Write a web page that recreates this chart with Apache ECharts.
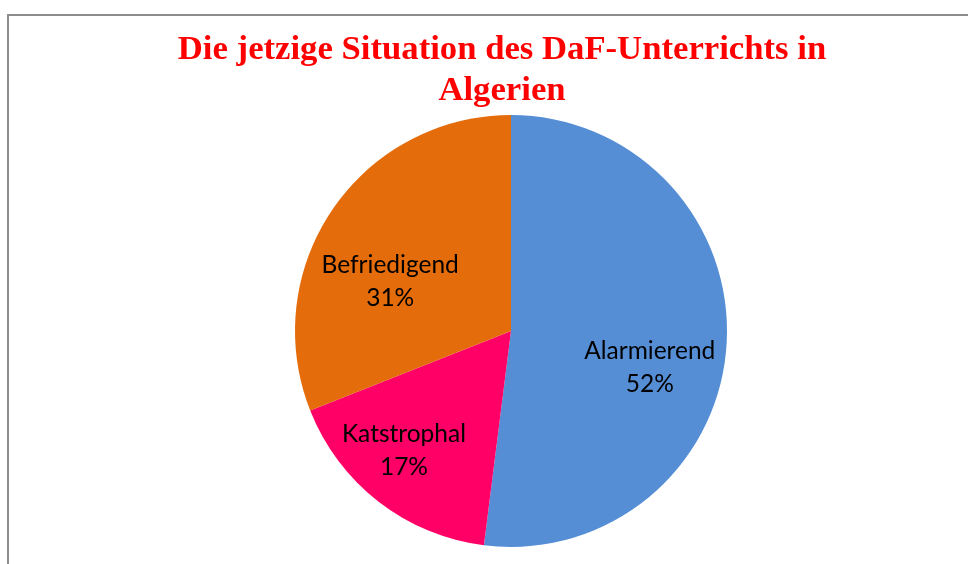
<!DOCTYPE html>
<html>
<head>
<meta charset="utf-8">
<script src="https://cdn.jsdelivr.net/npm/echarts@6/dist/echarts.min.js"></script>
<style>
html, body { margin: 0; padding: 0; background: #fff; }
#chart { width: 968px; height: 564px; }
</style>
</head>
<body>
<div id="chart"></div>
<script>
// Daten
const categories = ['Alarmierend', 'Katstrophal', 'Befriedigend']
const values = [52, 17, 31]
const colors = ['#558ED5', '#FF0066', '#E46C0A']
// Verschiebung der Beschriftungen (wie in Excel "beste Anpassung")
const labelShift = [[28, 30], [-39, 32], [-29, 13]]

const myChart = echarts.init(document.getElementById('chart'))

const option = {
  animation: false,
  title: {
    text: 'Die jetzige Situation des DaF-Unterrichts in\nAlgerien',
    left: 497,
    textAlign: 'center',
    top: 25,
    textStyle: {
      fontFamily: 'Liberation Serif',
      fontWeight: 'bold',
      fontSize: 34.7,
      lineHeight: 41,
      color: '#FF0000'
    }
  },
  graphic: [
    {
      type: 'polyline',
      shape: { points: [[8, 600], [8, 15], [980, 15]] },
      style: { stroke: '#8c8c8c', lineWidth: 2, fill: null }
    }
  ],
  series: [
    {
      type: 'pie',
      center: [511, 331],
      radius: 216,
      startAngle: 90,
      clockwise: true,
      silent: true,
      itemStyle: { borderWidth: 0 },
      label: {
        show: true,
        position: 'inside',
        formatter: '{b}\n{d}%',
        fontFamily: 'Lato',
        fontSize: 24.5,
        lineHeight: 33,
        color: '#000'
      },
      labelLayout: function (params) {
        const s = labelShift[params.dataIndex]
        return { dx: s[0], dy: s[1] }
      },
      data: categories.map((name, i) => ({
        name: name,
        value: values[i],
        itemStyle: { color: colors[i] }
      }))
    }
  ]
}
myChart.setOption(option)
</script>
</body>
</html>
